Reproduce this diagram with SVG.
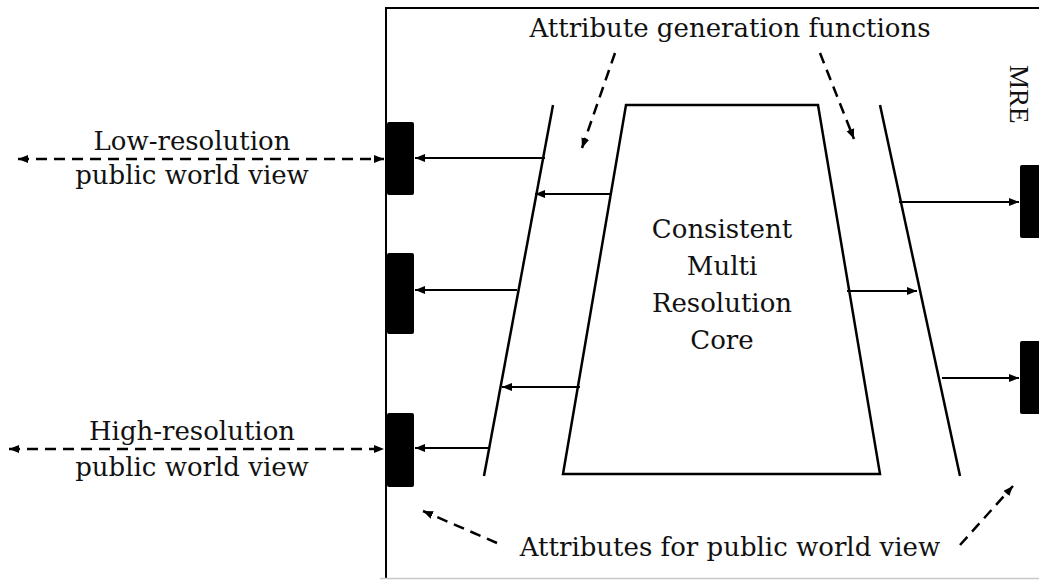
<svg xmlns="http://www.w3.org/2000/svg" width="1039" height="580" viewBox="0 0 1039 580">
  <defs>
    <marker id="head" markerUnits="userSpaceOnUse" markerWidth="12" markerHeight="10" refX="10" refY="4" orient="auto-start-reverse">
      <path d="M0,0 L10,4 L0,8 Z" fill="#000"/>
    </marker>
    <style>
      .txt { font-family: "DejaVu Serif", "Liberation Serif", serif; font-size: 26px; fill: #111; }
      .mre { font-family: "Liberation Serif", "DejaVu Serif", serif; font-size: 27px; fill: #111; }
      .frame { fill: none; stroke: #000; stroke-width: 2; }
      .edge { fill: none; stroke: #000; stroke-width: 2.5; }
      .port { fill: #000; }
      .flow { stroke: #000; stroke-width: 2; marker-end: url(#head); }
      .dash { fill: none; stroke: #000; stroke-width: 2.5; stroke-dasharray: 11 7; marker-end: url(#head); }
      .dash2 { fill: none; stroke: #000; stroke-width: 2.5; stroke-dasharray: 11 7; marker-start: url(#head); marker-end: url(#head); }
    </style>
  </defs>

  <rect width="1039" height="580" fill="#fff"/>

  <!-- MRE boundary -->
  <g id="mre">
    <path class="frame" d="M1045,8 L386,8 L386,578"/>
    <line x1="380" y1="578.5" x2="1039" y2="578.5" stroke="#c8c8c8" stroke-width="1.5"/>
    <text class="mre" transform="translate(1010,65) rotate(90)">MRE</text>
  </g>

  <!-- core -->
  <g id="core">
    <path class="edge" d="M626,105 L818,105 L880,474 L563,474 Z"/>
    <text class="txt" text-anchor="middle" x="722" y="238">Consistent</text>
    <text class="txt" text-anchor="middle" x="722" y="275">Multi</text>
    <text class="txt" text-anchor="middle" x="722" y="312">Resolution</text>
    <text class="txt" text-anchor="middle" x="722" y="349">Core</text>
  </g>

  <!-- attribute generation layers -->
  <g id="layer-left">
    <line class="edge" x1="553" y1="105" x2="484" y2="476"/>
  </g>
  <g id="layer-right">
    <line class="edge" x1="880" y1="105" x2="960" y2="476"/>
  </g>

  <!-- output ports -->
  <g id="port-l1"><rect class="port" x="387" y="122" width="27" height="73" rx="2"/></g>
  <g id="port-l2"><rect class="port" x="387" y="253" width="27" height="81" rx="2"/></g>
  <g id="port-l3"><rect class="port" x="387" y="413" width="27" height="74" rx="2"/></g>
  <g id="port-r1"><rect class="port" x="1020" y="165" width="24" height="73" rx="2"/></g>
  <g id="port-r2"><rect class="port" x="1020" y="341" width="24" height="73" rx="2"/></g>

  <!-- labels -->
  <g id="label-top">
    <text class="txt" text-anchor="middle" x="730" y="37">Attribute generation functions</text>
  </g>
  <g id="label-bottom">
    <text class="txt" text-anchor="middle" x="730" y="556">Attributes for public world view</text>
  </g>
  <g id="label-low">
    <text class="txt" text-anchor="middle" x="192" y="150">Low-resolution</text>
    <text class="txt" text-anchor="middle" x="192" y="184">public world view</text>
  </g>
  <g id="label-high">
    <text class="txt" text-anchor="middle" x="192" y="440">High-resolution</text>
    <text class="txt" text-anchor="middle" x="192" y="476">public world view</text>
  </g>

  <!-- connectors -->
  <g id="connectors">
    <line class="flow" x1="545" y1="158" x2="415" y2="158"/>
    <line class="flow" x1="611" y1="194" x2="535" y2="194"/>
    <line class="flow" x1="517" y1="290" x2="415" y2="290"/>
    <line class="flow" x1="580" y1="387" x2="502" y2="387"/>
    <line class="flow" x1="490" y1="448" x2="415" y2="448"/>

    <line class="flow" x1="899" y1="202" x2="1019" y2="202"/>
    <line class="flow" x1="847" y1="291" x2="917" y2="291"/>
    <line class="flow" x1="942" y1="378" x2="1019" y2="378"/>

    <line class="dash2" x1="18" y1="159" x2="384" y2="159"/>
    <line class="dash2" x1="9" y1="449" x2="384" y2="449"/>

    <line class="dash" x1="615" y1="53" x2="582" y2="148"/>
    <line class="dash" x1="820" y1="53" x2="854" y2="139"/>
    <line class="dash" x1="497" y1="543" x2="423" y2="511"/>
    <line class="dash" x1="960" y1="545" x2="1013" y2="486"/>
  </g>
</svg>
